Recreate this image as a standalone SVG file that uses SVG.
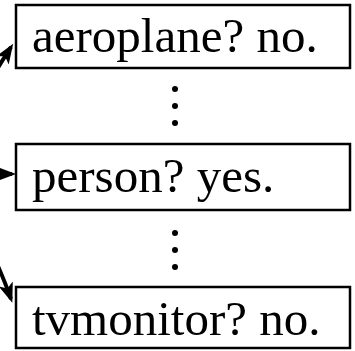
<svg xmlns="http://www.w3.org/2000/svg" width="355" height="351" viewBox="0 0 355 351">
<style>
.box{fill:#fff;stroke:#000;stroke-width:2.5}
.lbl{font-family:"Liberation Serif","Times New Roman",serif;font-size:49px;fill:#000}
.edge{fill:none;stroke:#000;stroke-width:4}
.dot{fill:#000}
</style>
<defs>
<marker id="ah" markerUnits="userSpaceOnUse" markerWidth="22" markerHeight="16" refX="16" refY="7.5" orient="auto">
<path d="M0,0 L20,7.5 L0,15 L5,7.5 z" fill="#000"/>
</marker>
</defs>
<rect width="355" height="351" fill="#fff"/>
<g id="connectors">
<path class="edge" d="M-25,105 Q-5,72 11,47" marker-end="url(#ah)"/>
<path class="edge" d="M-20,174 L12,174" marker-end="url(#ah)"/>
<path class="edge" d="M-20,230 Q-2,262 11,299" marker-end="url(#ah)"/>
</g>
<g id="node-aeroplane">
<rect class="box" x="16" y="5" width="334" height="63"/>
<text class="lbl" x="32" y="52">aeroplane? no.</text>
</g>
<g id="dots-1">
<circle class="dot" cx="175" cy="89" r="3"/>
<circle class="dot" cx="175" cy="106" r="3"/>
<circle class="dot" cx="175" cy="123" r="3"/>
</g>
<g id="node-person">
<rect class="box" x="16" y="144" width="334" height="66"/>
<text class="lbl" x="32" y="192">person? yes.</text>
</g>
<g id="dots-2">
<circle class="dot" cx="175" cy="233" r="3"/>
<circle class="dot" cx="175" cy="250" r="3"/>
<circle class="dot" cx="175" cy="267" r="3"/>
</g>
<g id="node-tvmonitor">
<rect class="box" x="16" y="287" width="334" height="61"/>
<text class="lbl" x="32" y="335">tvmonitor? no.</text>
</g>
</svg>
